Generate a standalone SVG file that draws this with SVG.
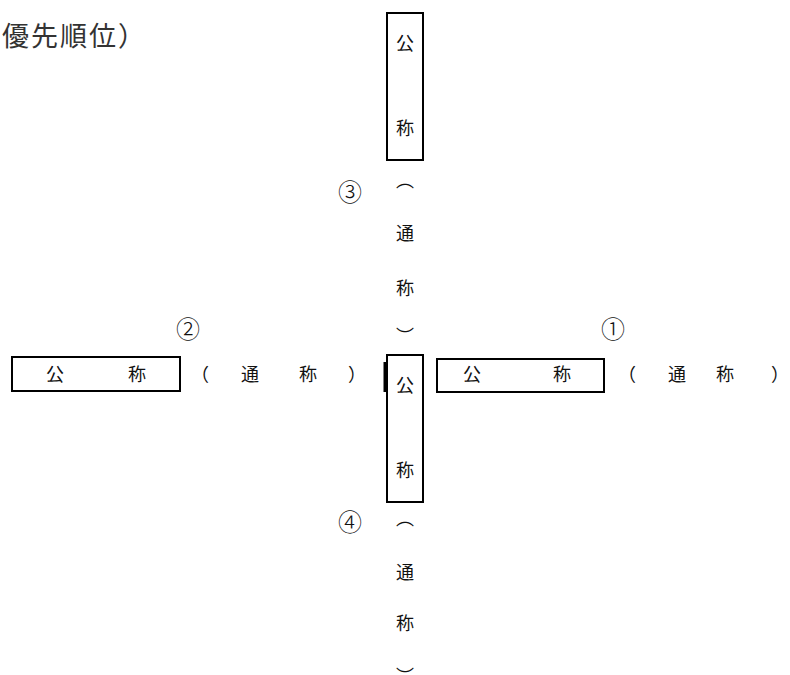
<svg xmlns="http://www.w3.org/2000/svg" width="790" height="675" viewBox="0 0 790 675">
<style>
text{font-family:"Noto Sans CJK JP","Noto Sans CJK SC",sans-serif;fill:#111;text-anchor:middle;font-size:18px;font-weight:400}
.num{font-size:24px;font-weight:300}
.title{font-size:27px;text-anchor:start;letter-spacing:2px;fill:#333}
.box{fill:none;stroke:#000;stroke-width:2}
</style>
<rect width="790" height="675" fill="#fff"/>
<text class="title" x="2" y="46">優先順位）</text>
<g id="n3">
<rect class="box" x="387" y="13" width="36" height="147"/>
<text x="405" y="50">公</text>
<text x="405" y="135">称</text>
<text x="405" y="187">︵</text>
<text x="405" y="240">通</text>
<text x="405" y="295">称</text>
<text x="405" y="343">︶</text>
<text class="num" x="350" y="201">③</text>
</g>
<g id="n2">
<rect class="box" x="12" y="357" width="168" height="34"/>
<text x="55" y="381">公</text>
<text x="137" y="381">称</text>
<text x="200" y="381">（</text>
<text x="250" y="381">通</text>
<text x="308" y="381">称</text>
<text x="357" y="381">）</text>
<text class="num" x="188" y="338">②</text>
</g>
<g id="n4">
<rect class="box" x="387" y="355" width="36" height="147"/>
<line x1="385" y1="362" x2="385" y2="392" stroke="#000" stroke-width="3"/>
<text x="405" y="392">公</text>
<text x="405" y="477">称</text>
<text x="405" y="525">︵</text>
<text x="405" y="579">通</text>
<text x="405" y="630">称</text>
<text x="405" y="683">︶</text>
<text class="num" x="350" y="531">④</text>
</g>
<g id="n1">
<rect class="box" x="437" y="359" width="167" height="33"/>
<text x="472" y="381">公</text>
<text x="562" y="381">称</text>
<text x="627" y="381">（</text>
<text x="677" y="381">通</text>
<text x="725" y="381">称</text>
<text x="780" y="381">）</text>
<text class="num" x="613" y="338">①</text>
</g>
<g id="connectors"></g>
</svg>
